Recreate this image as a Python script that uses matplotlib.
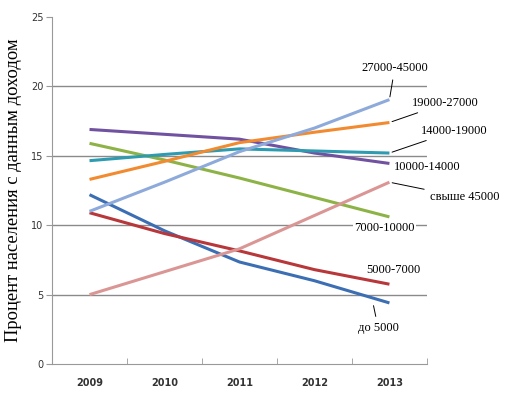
import matplotlib.pyplot as plt

# years on the x axis
years = ['2009', '2010', '2011', '2012', '2013']

# share of population (%) by income group
do_5000 = [12.2, 9.6, 7.35, 6.0, 4.4]
g5000_7000 = [10.9, 9.4, 8.15, 6.8, 5.75]
g7000_10000 = [15.9, 14.7, 13.4, 12.0, 10.6]
g10000_14000 = [16.9, 16.55, 16.2, 15.2, 14.45]
g14000_19000 = [14.65, 15.1, 15.5, 15.35, 15.2]
g19000_27000 = [13.3, 14.6, 15.95, 16.7, 17.4]
g27000_45000 = [11.0, 13.1, 15.3, 17.0, 19.05]
over_45000 = [5.0, 6.65, 8.3, 10.7, 13.1]

series = [
    (do_5000, '#3C6EB4'),
    (g5000_7000, '#B8373A'),
    (g7000_10000, '#8DB347'),
    (g10000_14000, '#7152A0'),
    (g14000_19000, '#2E9BB0'),
    (g19000_27000, '#F28A30'),
    (g27000_45000, '#8EAADB'),
    (over_45000, '#DA9694'),
]

fig = plt.figure(figsize=(5.08, 3.97), dpi=100)
ax = fig.add_axes([0.1024, 0.0831, 0.738, 0.874])

x = range(len(years))
for vals, col in series:
    ax.plot(x, vals, color=col, lw=2.2, solid_capstyle='butt')

ax.set_xlim(-0.5, 4.5)
ax.set_ylim(0, 25)
ax.set_yticks([0, 5, 10, 15, 20, 25])
ax.set_xticks(list(x))
ax.set_xticklabels(years, fontsize=7, fontweight='bold', color='#333333')
ax.set_xticks([i - 0.5 for i in range(6)], minor=True)
ax.tick_params(axis='x', which='major', length=0, pad=10)
ax.tick_params(axis='x', which='minor', length=4, color='#999999', direction='in')
ax.tick_params(axis='y', labelsize=7, length=4, color='#999999', pad=2, labelcolor='#333333')

for yv in [5, 10, 15, 20]:
    ax.axhline(yv, color='#8a8a8a', lw=1, zorder=0)

for s in ['top', 'right']:
    ax.spines[s].set_visible(False)
ax.spines['left'].set_color('#999999')
ax.spines['bottom'].set_color('#999999')

ax.set_ylabel('Процент населения с данным доходом', family='Liberation Serif',
              fontsize=13.3, va='center')
ax.yaxis.set_label_coords(-0.102, 0.5)

lab = dict(family='Liberation Serif', fontsize=9, ha='center', va='center')
ln = dict(arrowstyle='-', color='black', lw=0.7)
ax.annotate('27000-45000', xy=(4, 19.05), xytext=(4.07, 21.3), textcoords='data',
            arrowprops=ln, annotation_clip=False, **lab)
ax.annotate('19000-27000', xy=(4, 17.4), xytext=(4.75, 18.8),
            arrowprops=ln, annotation_clip=False, **lab)
ax.annotate('14000-19000', xy=(4, 15.2), xytext=(4.87, 16.8),
            arrowprops=ln, annotation_clip=False, **lab)
ax.text(4.51, 14.2, '10000-14000', clip_on=False, **lab)
ax.annotate('свыше 45000', xy=(4, 13.1), xytext=(5.0, 12.0),
            arrowprops=ln, annotation_clip=False, **lab)
ax.text(3.93, 9.8, '7000-10000', clip_on=False,
        bbox=dict(facecolor='white', edgecolor='none', pad=1), **lab)
ax.text(4.05, 6.8, '5000-7000', clip_on=False, **lab)
ax.annotate('до 5000', xy=(3.78, 4.4), xytext=(3.85, 2.6),
            arrowprops=ln, annotation_clip=False, **lab)

fig.savefig('out.png', dpi=100)
